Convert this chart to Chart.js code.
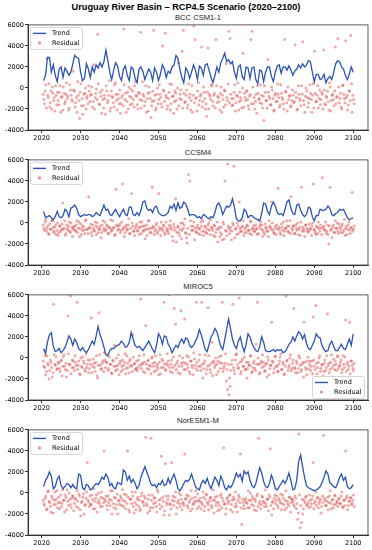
<!DOCTYPE html>
<html>
<head>
<meta charset="utf-8">
<script src="https://cdn.jsdelivr.net/npm/chart.js@4.4.0/dist/chart.umd.min.js"></script>
<style>
  body { margin: 0; width: 372px; height: 550px; background: #fff; position: relative; overflow: hidden; font-family: "DejaVu Sans", sans-serif; }
  .ttl { position: absolute; text-align: center; color: #222; white-space: nowrap; }
  .sub { font-family: "Liberation Sans", Arial, sans-serif; font-size: 7.6px; line-height: 8px; left: 28px; width: 340px; }
  canvas { position: absolute; left: 0; }
</style>
</head>
<body>
<div class="ttl" style="left:0;width:372px;top:2px;font-family:'Liberation Sans',Arial,sans-serif;font-size:9.2px;line-height:10px;font-weight:bold;color:#000">Uruguay River Basin – RCP4.5 Scenario (2020–2100)</div>
<div class="ttl sub" style="top:14px">BCC CSM1-1</div>
<div class="ttl sub" style="top:149px">CCSM4</div>
<div class="ttl sub" style="top:283px">MIROC5</div>
<div class="ttl sub" style="top:417px">NorESM1-M</div>
<canvas id="c1" width="372" height="126" style="top:20px"></canvas>
<canvas id="c2" width="372" height="126" style="top:155px"></canvas>
<canvas id="c3" width="372" height="126" style="top:290px"></canvas>
<canvas id="c4" width="372" height="126" style="top:425px"></canvas>
<script>
// time axis: trend every half year from 2020.5, residuals every 4 months (two interleaved sets)
const trendStart = 2020.5, trendStep = 0.5;
const residStartA = 2020.4, residStartB = 2020.57, residStep = 1 / 3;
const xTicks = [2020, 2030, 2040, 2050, 2060, 2070, 2080, 2090, 2100];
const yTicks = [-4000, -2000, 0, 2000, 4000, 6000];

const trendBcc = [
  700, 1200, 2900, 2900, 1500, 2200, 1200, 600, 1800, 2000,
  1000, 1900, 1600, 1200, 1500, 2300, 3100, 2900, 2800, 1500,
  700, 900, 2300, 1800, 1000, 2000, 1500, 2200, 1900, 2400,
  2000, 2500, 3600, 2600, 1500, 800, 1700, 2400, 2100, 1100,
  700, 1800, 2100, 1200, 700, 2000, 1800, 900, 500, 1800,
  2000, 1600, 800, 1300, 1800, 1500, 700, 1900, 1500, 700,
  1300, 2200, 1800, 1000, 1600, 1400, 2000, 2200, 3100, 2800,
  1800, 1000, 500, 1900, 1600, 900, 1500, 2200, 1700, 800,
  2100, 1900, 1200, 2200, 2300, 1700, 1000, 500, 1200, 2000,
  1500, 2400, 2800, 3300, 2500, 2700, 2300, 2500, 1500, 900,
  2000, 2200, 1100, 800, 2000, 1900, 900, 1900, 2000, 800,
  400, 1700, 1600, 600, 1500, 2000, 2000, 1100, 600, 1500,
  2100, 2200, 1400, 2000, 2000, 1700, 2100, 1700, 1200, 1600,
  1800, 2200, 1900, 2300, 2000, 2200, 2600, 2500, 1500, 600,
  1300, 1300, 800, 900, 1300, 500, 900, 1100, 800, 1500,
  2300, 2600, 2500, 2000, 1800, 1200, 800, 1300, 2000, 1500
];
const trendCcsm4 = [
  1100, 500, 600, 700, 500, 300, 600, 1100, 600, 500,
  700, 1300, 1100, 600, 1400, 1500, 1700, 1400, 800, 600,
  700, 800, 700, 800, 800, 600, 700, 1000, 800, 700,
  1200, 1700, 1200, 1300, 800, 700, 1000, 1300, 900, 600,
  1000, 1300, 800, 700, 1500, 1500, 800, 700, 1000, 700,
  1200, 2000, 2100, 1400, 1200, 1300, 1000, 1500, 1600, 1000,
  800, 700, 700, 800, 1000, 1600, 1400, 1800, 1200, 1900,
  1400, 1500, 2000, 1800, 1300, 700, 800, 800, 700, 500,
  600, 400, 800, 700, 500, 400, 600, 500, 1000, 1700,
  1900, 1500, 800, 1200, 1600, 1500, 1700, 2300, 1500, 400,
  200, 200, 500, 1300, 1100, 500, 700, 700, 500, 400,
  300, 200, 900, 1900, 1800, 1100, 800, 1600, 2000, 1600,
  1000, 800, 900, 700, 1300, 2000, 2200, 1400, 900, 800,
  1700, 1800, 1200, 800, 600, 800, 1500, 1400, 600, 200,
  700, 700, 1300, 1200, 1200, 1300, 1600, 1400, 800, 700,
  900, 1000, 1300, 1200, 1300, 900, 500, 300, 400, 500
];
const trendMiroc5 = [
  900, 400, 1500, 2200, 2400, 1100, 600, 700, 900, 500,
  700, 1000, 1500, 2100, 1800, 1200, 1800, 1500, 900, 700,
  1000, 700, 500, 800, 1200, 1600, 1300, 2100, 3000, 2200,
  1700, 1000, 300, 200, 700, 900, 900, 1100, 1200, 1300,
  1600, 1400, 1000, 1100, 1500, 2400, 1800, 1200, 1000, 1100,
  900, 700, 1000, 1300, 1600, 1200, 800, 500, 1200, 2300,
  2000, 1300, 2100, 2000, 1300, 1000, 500, 900, 1200, 1000,
  1500, 1800, 1400, 1900, 1800, 1200, 1000, 1200, 1600, 2000,
  2700, 2200, 1500, 800, 600, 1300, 2000, 2300, 2800, 2500,
  1800, 1100, 800, 1700, 2700, 3700, 2800, 1800, 1200, 900,
  1600, 2000, 1200, 600, 1300, 2300, 2000, 1400, 1000, 700,
  600, 1100, 2000, 1500, 700, 600, 600, 700, 800, 600,
  800, 700, 800, 500, 600, 900, 1300, 1500, 2000, 1600,
  2100, 2500, 2300, 1800, 2200, 1400, 900, 800, 1200, 1600,
  2300, 2000, 1900, 1200, 800, 600, 700, 1300, 1600, 1100,
  700, 700, 1000, 1300, 900, 800, 1300, 1800, 1200, 2300
];
const trendNoresm = [
  600, 1200, 1500, 2000, 1600, 400, 600, 1300, 1600, 700,
  400, 600, 900, 800, 500, 800, 500, 400, 1800, 1700,
  500, 300, 800, 700, 300, 400, 700, 900, 800, 1100,
  1500, 1300, 1800, 1500, 700, 900, 500, 400, 1000, 900,
  800, 2200, 2000, 1200, 1600, 1000, 1300, 900, 400, 700,
  1500, 2000, 2500, 2000, 1500, 900, 700, 800, 500, 900,
  800, 1200, 700, 800, 1400, 900, 1400, 1800, 1200, 400,
  200, 500, 900, 1200, 1100, 1300, 1800, 1200, 600, 400,
  300, 900, 1200, 900, 1400, 800, 400, 1000, 1500, 1200,
  700, 1600, 1200, 500, 300, 700, 500, 800, 1300, 1900,
  1500, 1800, 1100, 2100, 1800, 2000, 1200, 700, 500, 900,
  1700, 2400, 1900, 1100, 600, 500, 900, 1700, 1200, 400,
  300, 600, 900, 1200, 900, 1300, 1900, 1200, 300, 400,
  1200, 3000, 3600, 2500, 1500, 700, 500, 400, 300, 200,
  300, 400, 600, 1000, 1500, 2100, 1800, 1000, 800, 600,
  500, 900, 1500, 1800, 1200, 1500, 600, 400, 500, 800
];

const residBccA = [
  -600, -1500, 300, 2800, -900, -1800, -300, 100, -1200, -2200, -700, -400,
  -1600, 200, -900, -2100, -500, -1300, 500, -800, -1900, -200, -1100, 1600,
  -300, -1400, -2300, -700, -2900, 400, -1000, -1700, -500, -2000, -800, 200,
  -1300, -600, -1800, 2200, -900, -100, 5100, -1500, -400, -2400, -1100, -700,
  -2500, -300, -1200, 700, -1900, -800, -1400, 300, -600, -2100, -1000, -200,
  -1500, -700, 5600, -1100, -2300, -400, 100, -1600, -900, -300, -1800, 600,
  -800, -2000, -500, 5300, -1200, -600, -1700, 200, -1000, -2200, -400, -2800,
  -1300, 5500, -700, -1900, 0, -1100, -600, -1500, 4000, -300, 5200, -900,
  -1700, -400, -2100, 300, -800, -1300, -500, -2000, 2400, -1000, -200, 3500,
  5500, -1400, -700, -1900, 400, -600, -1200, -2300, 5900, 4600, -900, -300,
  -1600, -800, 3900, -1300, -400, -2000, -2700, 3800, -600, -1100, 200, -1700,
  -500, 4600, -1400, -900, -2100, 100, -700, -1800, -300, 2300, -1200, 5400,
  4700, -1000, -1600, -400, -2200, -700, 500, -1300, -900, -1900, 3300, -500,
  -1200, -300, -1700, -800, 4600, 5400, -1500, -2000, -600, 200, -1100, -1400,
  -700, -1900, -3100, -400, -1200, 2700, -800, -1600, 100, -1000, -2100, -500,
  -1300, -600, -1800, 300, -900, -1500, 4600, -400, -2200, -1100, -700, -1700,
  -200, -1400, 4100, -900, -2000, -600, -1200, 200, 4400, -1600, -800, -300,
  -1800, -1000, -500, -2300, 400, 3500, -1300, -700, -1900, -200, -1100, -600,
  3600, -1500, -800, -300, -2100, 100, -1200, -600, -1700, 3900, -900, 4700,
  -1400, -500, -2000, 300, -1000, 4500, -700, -1600, -300, 5000, -2300, -1100
];
const residBccB = [
  -1100, -300, -1900, -700, 400, -1400, -2000, -500, -900, 200, -1600, -1200,
  -400, -2300, -800, 100, -1500, -600, -1000, -2100, 300, -700, -1300, -200,
  -1800, -900, 600, -1200, -400, -1700, -2500, -600, 0, -1000, -1500, -300,
  -700, 100, -1300, -2000, -500, -1100, 400, -1600, -800, -200, -1900, -1000,
  200, -1400, -700, -2200, -300, -900, -1800, 500, -1200, -600, -1500, -2400,
  -900, -1700, 300, -500, -1300, -2000, -800, -100, -1500, -1100, 200, -700,
  -1600, -400, -1100, -1900, 600, -800, -1300, -2300, -500, 100, -1000, -1700,
  -300, -1200, -2100, -600, -1500, 300, -900, -1800, -200, -1300, -700, -2000,
  -1000, 400, -1500, -800, -2400, -300, -1200, 0, -1700, -600, -1100, -1900,
  -500, -1300, -200, -1600, -900, -2100, 200, -700, -1400, -1000, -2200, 500,
  -1200, -600, -1800, 100, -1000, -1500, -400, -2000, -800, 300, -1300, -700,
  -1900, 200, -800, -1300, -500, -2300, -1100, -200, -1600, -900, 400, -1400,
  -600, -1700, -1000, 300, -1400, -800, -2100, -400, -1200, 0, -1800, -900,
  -300, -1100, -2000, -600, -1500, 100, -900, -1300, -2400, -500, -1000, 300,
  -1500, -800, 200, -1200, -1900, -400, -1000, -1600, -200, -2200, -700, -1300,
  400, -900, -1600, -500, -1100, -2000, -300, -1400, 100, -800, -1800, -1200,
  -700, -1300, -400, -2100, 200, -1000, -1700, -600, -1200, -2300, 0, -900,
  -1400, 300, -1100, -700, -1900, -500, -1300, 200, -1000, -1600, -400, -2000,
  -200, -1600, -900, -1300, 500, -2200, -700, -1100, -300, -1500, -800, 100,
  -1000, -1800, 200, -600, -1400, -900, -2100, -300, -1200, 400, -700, -1500
];
const residCcsm4A = [
  -200, -700, 300, -500, -1000, -100, -600, 200, -800, -400, -1100, 0,
  -900, -300, -600, 1900, -500, -1200, -200, -700, 100, -900, -400, -600,
  -300, -800, 200, -500, -1300, -100, -700, -400, -1000, 300, -600, 2500,
  -500, -900, -200, -700, 100, -1100, -400, -600, -300, -900, 200, -500,
  -800, -200, -1000, -400, 300, -700, -500, -1200, 3200, -300, -600, -100,
  -700, 3700, -400, -900, -200, -600, 400, -1000, 2800, -300, -800, -500,
  -100, -700, -1100, -400, 100, -800, -300, -600, -1200, 200, -500, -900,
  3400, -400, -800, -200, -1000, 2800, -600, 100, -700, -300, -1100, -500,
  -800, -200, 200, -600, -1700, -400, 2300, -900, -300, -1200, 0, -700,
  -500, 400, -1000, -1900, 4600, 4000, -300, -700, 100, -500, -900, -200,
  -600, -1100, -300, 200, -800, -400, -1000, -200, -700, 300, -500, -1200,
  -300, -900, 100, -600, -1300, -400, -1600, -100, 4000, -800, 5600, -500,
  -700, -1600, 0, 5400, -500, -1100, -300, 2000, -800, -400, 200, -900,
  -400, -200, -700, -1000, 100, -600, -300, -800, -500, -1100, 300, -200,
  -600, -1300, -900, -100, -500, -800, 200, -400, 2000, -700, -1000, -300,
  -200, 3300, -600, -1100, -400, 100, -800, -500, -300, -900, 200, 2500,
  -700, -300, -1000, -500, 0, -600, -1200, 3400, -400, -800, -200, -500,
  -900, -100, -600, -300, 3700, -700, -1100, -400, 100, -800, -500, 4300,
  -300, -700, -1000, -200, -2000, 3400, -600, -400, -900, 200, -500, -800,
  -100, -600, -300, -900, 300, -500, -1100, -200, -700, -400, 2900, -600
];
const residCcsm4B = [
  -500, 100, -800, -300, -1100, -600, 200, -400, -900, -200, -700, -1200,
  -300, -800, -100, -600, 200, -1000, -500, -300, -800, 0, -1300, -400,
  -700, -200, -900, 100, -500, -1100, -300, -700, 200, -600, -1000, -400,
  -100, -1200, -500, -800, -300, 0, -900, -600, -1400, -200, -700, 100,
  -600, -300, -1000, -500, -800, 200, -400, -1100, -200, -700, -300, -900,
  100, -600, -1300, -400, -700, -200, -1000, -500, 0, -800, -1200, -300,
  -800, -400, 100, -1000, -300, -700, -1500, -200, -600, 200, -900, -500,
  -300, -1100, -600, 0, -800, -400, -1200, -500, -200, -900, 100, -700,
  -1000, -500, -300, -1300, -100, -700, -1800, -400, -900, -600, -1500, 0,
  -200, -900, -1400, -500, -1100, 200, -700, -300, -1600, -800, -400, -1000,
  -500, 100, -800, -1200, -300, -900, -600, 0, -1100, -400, -700, -200,
  -1300, -600, -1800, -400, -900, -1100, 100, -1500, -700, -1200, -300, -1000,
  -400, -800, -200, -1400, -600, 0, -1000, -500, -800, -300, -1200, -600,
  -900, -300, -700, 200, -1100, -500, -800, -200, -600, -1000, -400, 100,
  -200, -700, -1100, -400, -800, -1300, -300, -600, 0, -900, -500, -1100,
  -600, -400, -900, -100, -700, -1200, -500, 200, -800, -300, -1000, -500,
  -300, -1000, -200, -700, -1100, -400, 100, -800, -600, -1300, -200, -700,
  -800, -500, -1200, 0, -600, -900, -300, -1000, -500, -200, -1100, -400,
  -600, 100, -800, -1100, -300, -700, -1400, -200, -900, -500, 0, -1000,
  -400, -900, -100, -700, -1200, -300, -600, 100, -1000, -500, -800, -300
];
const residMiroc5A = [
  -300, -900, -1600, 200, -700, -1200, -400, -1800, 5100, -600, 100, -1000,
  -500, -1300, -200, -800, 300, -1100, -1800, 4000, -600, 5900, -900, -300,
  -1200, -400, 5300, -700, -1500, 0, -900, -300, -1100, 400, -600, -1400,
  -200, 3800, -800, -500, -1300, 200, -1900, 4300, -700, -1000, -300, 500,
  -900, -400, -1200, 100, -600, -1500, -300, 1200, -800, -1100, 300, -500,
  -1300, -200, -700, 400, -1000, -500, -1400, -100, -800, 2200, -600, -1100,
  -300, -900, 200, 5600, -600, -1300, -400, 3100, -1000, -200, -700, -1500,
  100, -800, -400, -1200, -600, -1600, 300, -900, -300, 5300, -1100, -500,
  -700, 6000, -1300, -200, -900, 4700, 3200, -500, -1400, 200, 4500, -800,
  -400, 3700, -1100, -600, 100, -1500, -300, -900, 500, -700, 5300, -1200,
  -200, -800, 5300, -1900, -500, 300, -1100, 4800, -700, -1400, 1500, -300,
  -900, 0, -600, -1300, -400, 200, 5300, -1000, -500, -2200, -3000, -3500,
  -2700, -600, 5100, -1200, -200, 400, -900, 5700, -1500, -300, -800, 100,
  -1100, -1900, -400, -700, 200, -1300, -500, -1000, 1300, 5300, -600, -1400,
  -300, 300, -800, -1200, -500, 100, -1600, -700, 3400, -400, -1000, 200,
  -800, -1300, -300, 400, -1100, -600, -1500, 5900, -200, -900, 0, -1200,
  -500, 4700, -1000, -300, -1400, 200, -700, -1100, -400, 3400, -900, -1600,
  100, -600, -1200, -300, 3900, -800, 5000, -1500, -400, 200, -1000, -700,
  -1300, -200, -900, 4200, -500, -1100, 300, -1800, -700, -300, -1200, 100,
  -800, -400, -1400, 200, -900, 3600, -600, -1100, 3400, -300, -700, -1200
];
const residMiroc5B = [
  -800, 200, -1300, -500, -2000, -200, -900, -1400, 300, -700, -1100, -400,
  -1000, -300, -1700, 100, -800, -500, -1200, 400, -600, -1500, -200, -900,
  200, -700, -1100, -300, -1600, -800, 100, -500, -1300, -900, -200, -1000,
  -600, -1400, -100, -900, -400, -1700, -700, 300, -1100, -500, -1300, -200,
  -400, 300, -1000, -600, -1400, -200, -800, -1200, 0, -700, -1600, -300,
  -800, -1100, -400, -1500, 200, -900, -300, -700, -1300, 100, -500, -1000,
  -1200, -200, -700, -1000, -500, 300, -1400, -600, -300, -1100, -800, 0,
  -500, -1300, 200, -800, -1000, -400, -1500, -100, -900, -600, -1200, 400,
  -300, -900, -600, -1400, 100, -700, -1100, -300, -800, -1500, -500, 0,
  -1100, -500, 200, -900, -1300, -300, -700, -1600, -100, -1000, -400, -800,
  300, -1200, -600, -1000, -300, -1500, -800, 200, -1100, -500, -1700, -400,
  -700, -1600, -300, 100, -1000, -500, -1300, -800, 400, -1100, -600, -1900,
  -1200, -200, -900, -1500, 300, -600, -1000, -400, -1300, -100, -800, -1100,
  -400, -1000, -700, 200, -1400, -900, -300, -1200, -600, 0, -1500, -500,
  -900, -400, -1300, -600, -1800, -200, -1000, -700, -300, -1400, 100, -800,
  -1300, -600, 100, -1100, -400, -1600, -800, -300, -1200, -700, 300, -1000,
  -200, -900, -1400, -500, -1000, 0, -1300, -600, -1800, -400, -1100, -300,
  -1000, -300, -800, -1500, -200, -1100, -500, -900, 0, -1300, -600, -1700,
  -500, -1200, 200, -700, -1400, -400, -900, -100, -1100, -600, 200, -1000,
  -700, -200, -1100, -600, 100, -1300, -400, -800, -1500, -300, -1000, -500
];
const residNoresmA = [
  -700, -1200, -300, -1500, 200, -900, -1800, -500, -1100, 100, -600, -1400,
  -400, -900, -1300, 300, -700, -200, -1600, -800, 0, -1100, -500, -300,
  -1000, -600, 200, -1400, -300, -2200, -800, -100, -1200, -500, 2900, -900,
  -300, -1100, -600, 400, -1500, -200, -900, -700, -1300, 100, -500, 4000,
  -800, -1200, -300, -600, 200, -2000, -1000, -400, -1500, -100, -700, -1100,
  -500, 300, -1300, -800, -200, 4000, -1600, -600, -1000, -300, -1900, 100,
  -1100, -400, -700, -1500, 0, -900, -300, 5300, -1200, -600, -1700, 5200,
  -200, -1000, -500, -1300, 300, -700, -1500, 3500, -400, -2100, 2800, -900,
  -600, -2100, -1100, 2900, -300, -800, 100, -1400, -700, -1000, -200, -1600,
  -900, 3700, -500, -1200, -300, -700, 200, -1500, -1000, -400, -800, -100,
  -1300, -500, -900, 100, -1700, -600, -200, -1100, -800, -400, -1400, 300,
  -700, -1200, -300, -900, -1600, -100, -500, 4300, -1000, -1500, -400, -800,
  -200, -1100, -1800, -600, 100, -1300, -700, -400, 3700, -3000, -900, -1500,
  -500, -1000, 200, -1400, -700, -300, -1200, -600, -1700, -100, 5200, -800,
  -1100, -400, -900, 300, -1300, -600, -200, 4200, -2100, -800, -500, -1000,
  -300, -1400, -700, -100, -1000, -500, -1600, 200, -800, -1200, -400, -900,
  -600, -1100, -300, -1500, -2500, 5600, -3300, -2800, -2000, -700, -400, -1200,
  -900, -200, -1300, -600, 2900, -1000, 100, -500, -1400, -800, -1900, -300,
  5500, -700, -1200, -400, -900, 200, -1500, -600, -1100, -300, -800, -1300,
  -500, -1000, 100, -1400, -700, 4000, -300, -1200, -800, -500, -1000, -200
];
const residNoresmB = [
  -1000, -500, -1600, 100, -800, -1300, -300, -1900, -700, -1100, 200, -900,
  -1500, -200, -1000, -700, -1800, -400, 300, -1200, -600, -1400, -300, -1700,
  -500, -1300, -800, -100, -1600, -900, -400, -2000, -1100, 100, -700, -1300,
  -1100, -200, -1500, -800, -500, -1800, 0, -1000, -400, -1300, -900, -600,
  -300, -1600, -900, -1200, -700, 200, -1400, -500, -1100, -2000, -800, -300,
  -1200, -700, -100, -1500, -1000, -400, -1800, -600, 100, -1300, -900, -1600,
  -600, -1300, -1700, -300, -800, -1200, -500, -1000, -1900, -200, -1400, -700,
  -1400, -400, -900, -1800, 100, -1100, -600, -1300, -800, -1700, -300, -1100,
  -300, -1000, -1500, -700, -1200, -400, -2000, -900, 0, -1300, -600, -1000,
  -1200, -600, -200, -1400, -900, -1700, -500, -1100, -800, 200, -1500, -700,
  -800, -1500, -1100, -400, -1300, -100, -900, -1600, -500, -1200, -700, -1900,
  -400, -900, -1700, -1200, -300, -1400, -800, -1100, -2000, -600, -1000, -200,
  -1600, -700, -400, -1300, -1000, -1800, -200, -900, -1400, -600, -1200, -700,
  -900, -1400, -700, 0, -1100, -500, -1600, -800, -300, -1300, -1000, -1500,
  -300, -800, -1300, -1000, -600, -1700, -400, -1200, -900, -1500, -200, -700,
  -1200, -500, -900, -1600, -200, -1100, -700, -1400, -1000, -400, -1800, -600,
  -800, -1300, -500, -1000, -1900, -200, -1200, -600, -1500, -900, -300, -1100,
  -1400, -700, -1000, -300, -1500, -800, -1200, -400, -1000, -600, -1300, -900,
  -500, -1200, -800, -1600, -300, -1000, -700, -1400, -200, -1100, -900, -600,
  -1000, -300, -1300, -700, -1200, -500, -1600, -800, -400, -1100, -700, -1300
];

const BLUE = '#2c52b4';
const RED = 'rgba(215, 55, 50, 0.42)';
const tickFont = { family: 'DejaVu Sans', size: 6.5 };

const framePlugin = {
  id: 'frame',
  afterDraw(chart) {
    const { ctx, chartArea: a } = chart;
    ctx.save();
    ctx.strokeStyle = '#333';
    ctx.lineWidth = 0.8;
    ctx.strokeRect(a.left, a.top, a.right - a.left, a.bottom - a.top);
    ctx.restore();
  }
};

const legendPlugin = {
  id: 'insetLegend',
  afterDraw(chart, args, opts) {
    const { ctx, chartArea: a } = chart;
    const w = 52, h = 22;
    const x = opts.pos === 'lr' ? a.right - w - 4 : a.left + 2;
    const y = opts.pos === 'lr' ? a.bottom - h - 2 : a.top + 2;
    ctx.save();
    ctx.fillStyle = 'rgba(255,255,255,0.85)';
    ctx.strokeStyle = '#cccccc';
    ctx.lineWidth = 0.8;
    ctx.beginPath();
    ctx.roundRect(x + 0.5, y + 0.5, w, h, 2);
    ctx.fill();
    ctx.stroke();
    ctx.strokeStyle = BLUE;
    ctx.lineWidth = 1.4;
    ctx.beginPath();
    ctx.moveTo(x + 3, y + 6.5);
    ctx.lineTo(x + 16, y + 6.5);
    ctx.stroke();
    ctx.fillStyle = 'rgba(215, 55, 50, 0.55)';
    ctx.beginPath();
    ctx.arc(x + 9.5, y + 16, 1.6, 0, Math.PI * 2);
    ctx.fill();
    ctx.fillStyle = '#000';
    ctx.font = '6.5px "DejaVu Sans"';
    ctx.textBaseline = 'middle';
    ctx.fillText('Trend', x + 22, y + 6.5);
    ctx.fillText('Residual', x + 22, y + 16);
    ctx.restore();
  }
};

function points(values, start, step) {
  return values.map((v, i) => ({ x: start + i * step, y: v }));
}

function makePanel(id, trend, residA, residB, legendPos) {
  return new Chart(document.getElementById(id), {
    type: 'line',
    data: {
      datasets: [
        {
          label: 'Trend',
          data: points(trend, trendStart, trendStep),
          borderColor: BLUE,
          borderWidth: 1.3,
          pointRadius: 0,
          tension: 0,
          order: 0
        },
        {
          type: 'scatter',
          label: 'Residual',
          data: points(residA, residStartA, residStep).concat(points(residB, residStartB, residStep)),
          backgroundColor: RED,
          borderWidth: 0,
          pointRadius: 1.5,
          order: 1
        }
      ]
    },
    options: {
      responsive: false,
      animation: false,
      devicePixelRatio: 1,
      layout: { padding: { top: 4, right: 4, left: 0, bottom: 0 } },
      plugins: {
        legend: { display: false },
        tooltip: { enabled: false },
        insetLegend: { pos: legendPos }
      },
      scales: {
        x: {
          type: 'linear',
          min: 2016.5,
          max: 2103.8,
          afterBuildTicks: (s) => { s.ticks = xTicks.map((v) => ({ value: v })); },
          afterFit: (s) => { s.height = 16; },
          ticks: { font: tickFont, color: '#000', padding: 1, maxRotation: 0, autoSkip: false, callback: (v) => String(v) },
          grid: { drawOnChartArea: false, drawTicks: true, tickLength: 3, color: '#333' },
          border: { color: '#333' }
        },
        y: {
          min: -4000,
          max: 6000,
          afterBuildTicks: (s) => { s.ticks = yTicks.map((v) => ({ value: v })); },
          afterFit: (s) => { s.width = 28; },
          ticks: { font: tickFont, color: '#000', padding: 1, callback: (v) => String(v) },
          grid: { drawOnChartArea: false, drawTicks: true, tickLength: 3, color: '#333' },
          border: { color: '#333' }
        }
      }
    },
    plugins: [framePlugin, legendPlugin]
  });
}

makePanel('c1', trendBcc, residBccA, residBccB, 'ul');
makePanel('c2', trendCcsm4, residCcsm4A, residCcsm4B, 'ul');
makePanel('c3', trendMiroc5, residMiroc5A, residMiroc5B, 'lr');
makePanel('c4', trendNoresm, residNoresmA, residNoresmB, 'ul');
</script>
</body>
</html>
